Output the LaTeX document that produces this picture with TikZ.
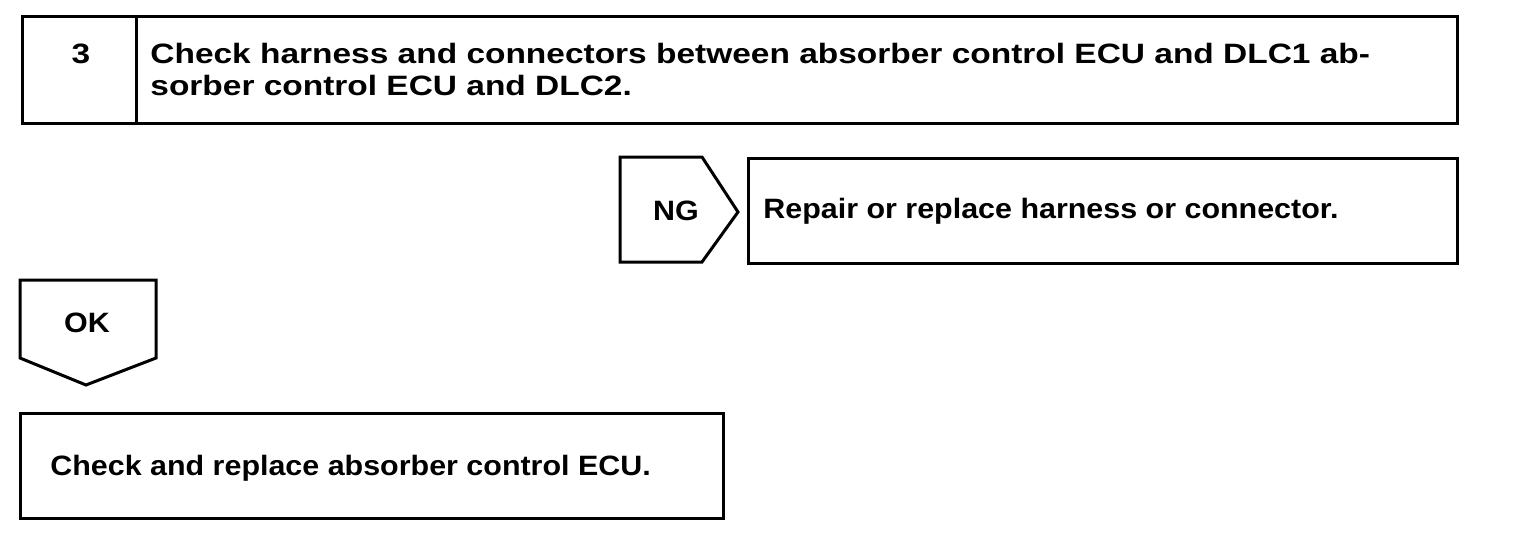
\documentclass[tikz,border=0pt]{standalone}
\usepackage{fontspec}
\setmainfont{Liberation Sans}
\newfontfamily\diagfont[FakeStretch=1.087]{Liberation Sans}
\newfontfamily\headfont[FakeStretch=1.195]{Liberation Sans}
\begin{document}
\begin{tikzpicture}[x=0.5pt,y=-0.5pt,
  frame/.style={line width=1.5pt, line join=miter},
  txt/.style={font=\diagfont\bfseries\fontsize{14}{16}\selectfont, inner sep=0pt},
  headtxt/.style={font=\headfont\bfseries\fontsize{14}{16}\selectfont, inner sep=0pt},
]
\useasboundingbox (0,0) rectangle (1520,546);
%%% step 3 heading box
\draw[frame] (22,16) rectangle (1457,123);
\draw[frame] (136,16) -- (136,123);
\node[headtxt, anchor=base] (stepnum) at (81,63) {3};
\node[headtxt, anchor=base west, align=left] (steptext) at (150,95) {Check harness and connectors between absorber control ECU and DLC1 ab-\\sorber control ECU and DLC2.};
%%% NG branch
\draw[frame] (620,157) -- (702,157) -- (738,212) -- (702,262) -- (620,262) -- cycle;
\node[txt, anchor=base] (ng) at (676,220) {NG};
\draw[frame] (748,158) rectangle (1457,263);
\node[txt, anchor=base west] (repair) at (763,218) {Repair or replace harness or connector.};
%%% OK branch
\draw[frame] (20,280) -- (156,280) -- (156,358) -- (86,385) -- (20,358) -- cycle;
\node[txt, anchor=base] (ok) at (87,332) {OK};
\draw[frame] (20,413) rectangle (723,518);
\node[txt, anchor=base west] (replace) at (50,475) {Check and replace absorber control ECU.};
\end{tikzpicture}
\end{document}
